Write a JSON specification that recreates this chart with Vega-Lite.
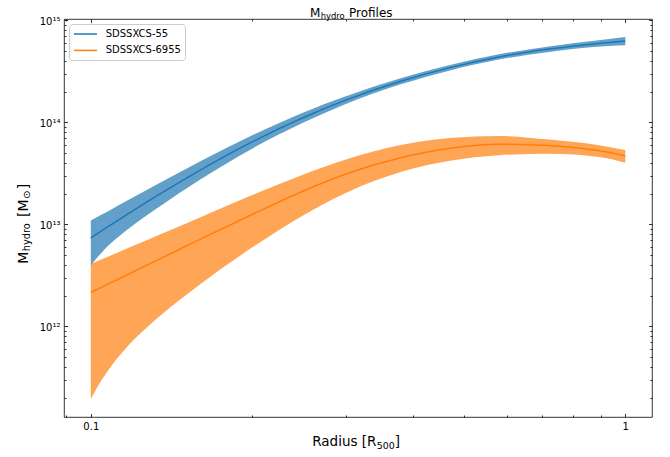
{
  "$schema": "https://vega.github.io/schema/vega-lite/v6.json",
  "autosize": {"type": "none"},
  "width": 588,
  "height": 398,
  "padding": {"left": 64, "top": 19, "right": 18, "bottom": 40},
  "background": "white",
  "data": {
    "values": [
      {"cluster": "SDSSXCS-55", "r": 0.1, "m": 7.36e12, "lo": 3.96e12, "hi": 1.094e13},
      {"cluster": "SDSSXCS-55", "r": 0.104, "m": 8.43e12, "lo": 5.08e12, "hi": 1.225e13},
      {"cluster": "SDSSXCS-55", "r": 0.109, "m": 9.89e12, "lo": 6.53e12, "hi": 1.396e13},
      {"cluster": "SDSSXCS-55", "r": 0.118, "m": 1.291e13, "lo": 9.18e12, "hi": 1.75e13},
      {"cluster": "SDSSXCS-55", "r": 0.135, "m": 2.0e13, "lo": 1.517e13, "hi": 2.576e13},
      {"cluster": "SDSSXCS-55", "r": 0.16, "m": 3.39e13, "lo": 2.742e13, "hi": 4.14e13},
      {"cluster": "SDSSXCS-55", "r": 0.2, "m": 6.4e13, "lo": 5.5e13, "hi": 7.43e13},
      {"cluster": "SDSSXCS-55", "r": 0.25, "m": 1.117e14, "lo": 9.95e13, "hi": 1.253e14},
      {"cluster": "SDSSXCS-55", "r": 0.3, "m": 1.652e14, "lo": 1.514e14, "hi": 1.803e14},
      {"cluster": "SDSSXCS-55", "r": 0.38, "m": 2.529e14, "lo": 2.36e14, "hi": 2.71e14},
      {"cluster": "SDSSXCS-55", "r": 0.47, "m": 3.443e14, "lo": 3.236e14, "hi": 3.656e14},
      {"cluster": "SDSSXCS-55", "r": 0.58, "m": 4.385e14, "lo": 4.13e14, "hi": 4.645e14},
      {"cluster": "SDSSXCS-55", "r": 0.72, "m": 5.236e14, "lo": 4.909e14, "hi": 5.559e14},
      {"cluster": "SDSSXCS-55", "r": 0.9, "m": 5.984e14, "lo": 5.534e14, "hi": 6.427e14},
      {"cluster": "SDSSXCS-55", "r": 1.0, "m": 6.295e14, "lo": 5.702e14, "hi": 6.871e14},
      {"cluster": "SDSSXCS-6955", "r": 0.1, "m": 2.153e12, "lo": 1.941e11, "hi": 4.093e12},
      {"cluster": "SDSSXCS-6955", "r": 0.104, "m": 2.377e12, "lo": 2.805e11, "hi": 4.467e12},
      {"cluster": "SDSSXCS-6955", "r": 0.109, "m": 2.679e12, "lo": 4.027e11, "hi": 4.966e12},
      {"cluster": "SDSSXCS-6955", "r": 0.118, "m": 3.281e12, "lo": 6.637e11, "hi": 5.929e12},
      {"cluster": "SDSSXCS-6955", "r": 0.135, "m": 4.624e12, "lo": 1.282e12, "hi": 8.017e12},
      {"cluster": "SDSSXCS-6955", "r": 0.16, "m": 7.129e12, "lo": 2.576e12, "hi": 1.172e13},
      {"cluster": "SDSSXCS-6955", "r": 0.2, "m": 1.245e13, "lo": 5.888e12, "hi": 1.932e13},
      {"cluster": "SDSSXCS-6955", "r": 0.25, "m": 2.128e13, "lo": 1.23e13, "hi": 3.083e13},
      {"cluster": "SDSSXCS-6955", "r": 0.3, "m": 3.119e13, "lo": 2.032e13, "hi": 4.325e13},
      {"cluster": "SDSSXCS-6955", "r": 0.38, "m": 4.498e13, "lo": 3.258e13, "hi": 5.998e13},
      {"cluster": "SDSSXCS-6955", "r": 0.47, "m": 5.572e13, "lo": 4.207e13, "hi": 7.031e13},
      {"cluster": "SDSSXCS-6955", "r": 0.58, "m": 6.124e13, "lo": 4.775e13, "hi": 7.362e13},
      {"cluster": "SDSSXCS-6955", "r": 0.72, "m": 5.929e13, "lo": 4.932e13, "hi": 6.792e13},
      {"cluster": "SDSSXCS-6955", "r": 0.9, "m": 5.248e13, "lo": 4.56e13, "hi": 5.943e13},
      {"cluster": "SDSSXCS-6955", "r": 1.0, "m": 4.721e13, "lo": 4.018e13, "hi": 5.358e13}
    ]
  },
  "resolve": {"axis": {"x": "independent", "y": "independent"}},
  "layer": [
    {
      "transform": [{"filter": "datum.cluster === 'SDSSXCS-55'"}],
      "mark": {"type": "area", "color": "#1f77b4", "fillOpacity": 0.7, "interpolate": "monotone"},
      "encoding": {
        "x": {
          "field": "r", "type": "quantitative",
          "scale": {"type": "log", "domain": [0.0891, 1.122], "nice": false, "zero": false},
          "axis": {
            "orient": "bottom", "values": [0.1, 1],
            "labelExpr": "datum.value < 0.5 ? '0.1' : '1'",
            "tickSize": -3.5, "labelPadding": 8.3, "labelFontSize": 10, "labelBaseline": "top",
            "labelFlush": false, "labelOverlap": false,
            "title": "Radius [R", "titleFontSize": 13.5, "titleAngle": 0,
            "titleAlign": "left", "titleBaseline": "alphabetic", "titleX": 247.7, "titleY": 28.5
          }
        },
        "y": {
          "field": "lo", "type": "quantitative",
          "scale": {"type": "log", "domain": [1.294e11, 1.032e15], "nice": false, "zero": false},
          "axis": {
            "orient": "left", "values": [1e12, 1e13, 1e14, 1e15],
            "labelExpr": "datum.value > 5e14 ? '10¹⁵' : datum.value > 5e13 ? '10¹⁴' : datum.value > 5e12 ? '10¹³' : '10¹²'",
            "tickSize": -3.5, "labelPadding": 7.5, "labelFontSize": 10, "labelAlign": "right",
            "labelBaseline": "middle", "labelOffset": 1, "labelFlush": false, "labelOverlap": false,
            "title": "M", "titleFontSize": 14, "titleAngle": 270,
            "titleAlign": "left", "titleBaseline": "alphabetic", "titleX": -37, "titleY": 244.3
          }
        },
        "y2": {"field": "hi"}
      }
    },
    {
      "transform": [{"filter": "datum.cluster === 'SDSSXCS-6955'"}],
      "mark": {"type": "area", "color": "#ff7f0e", "fillOpacity": 0.7, "interpolate": "monotone"},
      "encoding": {
        "x": {
          "field": "r", "type": "quantitative",
          "scale": {"type": "log", "domain": [0.0891, 1.122], "nice": false, "zero": false},
          "axis": {
            "orient": "bottom", "values": [0.09, 0.2, 0.3, 0.4, 0.5, 0.6, 0.7, 0.8, 0.9],
            "labels": false, "tickSize": -2,
            "title": "500", "titleFontSize": 9.45, "titleAngle": 0,
            "titleAlign": "left", "titleBaseline": "alphabetic", "titleX": 312.2, "titleY": 31
          }
        },
        "y": {
          "field": "lo", "type": "quantitative",
          "scale": {"type": "log", "domain": [1.294e11, 1.032e15], "nice": false, "zero": false},
          "axis": {
            "orient": "left",
            "values": [2e11, 3e11, 4e11, 5e11, 6e11, 7e11, 8e11, 9e11, 2e12, 3e12, 4e12, 5e12, 6e12, 7e12, 8e12, 9e12, 2e13, 3e13, 4e13, 5e13, 6e13, 7e13, 8e13, 9e13, 2e14, 3e14, 4e14, 5e14, 6e14, 7e14, 8e14, 9e14],
            "labels": false, "tickSize": -2,
            "title": "hydro", "titleFontSize": 9.8, "titleAngle": 270,
            "titleAlign": "left", "titleBaseline": "alphabetic", "titleX": -34.2, "titleY": 231.7
          }
        },
        "y2": {"field": "hi"}
      }
    },
    {
      "mark": {"type": "line", "strokeWidth": 1.5, "interpolate": "monotone"},
      "encoding": {
        "x": {
          "field": "r", "type": "quantitative",
          "scale": {"type": "log", "domain": [0.0891, 1.122], "nice": false, "zero": false},
          "axis": {
            "orient": "top", "values": [0.1, 1], "labels": false, "tickSize": -3.5,
            "title": "M", "titleFontSize": 12, "titleAngle": 0,
            "titleAlign": "left", "titleBaseline": "alphabetic", "titleX": 245.6, "titleY": -3
          }
        },
        "y": {
          "field": "m", "type": "quantitative",
          "scale": {"type": "log", "domain": [1.294e11, 1.032e15], "nice": false, "zero": false},
          "axis": {
            "orient": "right", "values": [1e12, 1e13, 1e14, 1e15], "labels": false,
            "tickSize": -3.5, "title": null
          }
        },
        "color": {
          "field": "cluster", "type": "nominal",
          "scale": {"domain": ["SDSSXCS-55", "SDSSXCS-6955"], "range": ["#1f77b4", "#ff7f0e"]},
          "legend": {
            "orient": "none", "legendX": 5, "legendY": 5, "title": null,
            "symbolType": "M-1,0H3.6", "symbolSize": 100, "symbolStrokeWidth": 1.5,
            "labelFont": "DejaVu Sans", "labelFontSize": 10, "labelColor": "black", "labelOffset": 20.7,
            "padding": 4, "rowPadding": 5.4,
            "fillColor": "white", "strokeColor": "#cccccc", "cornerRadius": 3
          }
        }
      }
    },
    {
      "mark": {"type": "line", "strokeOpacity": 0},
      "encoding": {
        "x": {
          "field": "r", "type": "quantitative",
          "scale": {"type": "log", "domain": [0.0891, 1.122], "nice": false, "zero": false},
          "axis": {
            "orient": "top", "values": [0.09, 0.2, 0.3, 0.4, 0.5, 0.6, 0.7, 0.8, 0.9],
            "labels": false, "tickSize": -2,
            "title": "hydro", "titleFontSize": 8.4, "titleAngle": 0,
            "titleAlign": "left", "titleBaseline": "alphabetic", "titleX": 256.2, "titleY": -0.7
          }
        },
        "y": {
          "field": "m", "type": "quantitative",
          "scale": {"type": "log", "domain": [1.294e11, 1.032e15], "nice": false, "zero": false},
          "axis": {
            "orient": "right",
            "values": [2e11, 3e11, 4e11, 5e11, 6e11, 7e11, 8e11, 9e11, 2e12, 3e12, 4e12, 5e12, 6e12, 7e12, 8e12, 9e12, 2e13, 3e13, 4e13, 5e13, 6e13, 7e13, 8e13, 9e13, 2e14, 3e14, 4e14, 5e14, 6e14, 7e14, 8e14, 9e14],
            "labels": false, "tickSize": -2, "title": null
          }
        },
        "detail": {"field": "cluster", "type": "nominal"}
      }
    },
    {
      "mark": {"type": "line", "strokeOpacity": 0},
      "encoding": {
        "x": {
          "field": "r", "type": "quantitative",
          "scale": {"type": "log", "domain": [0.0891, 1.122], "nice": false, "zero": false},
          "axis": {
            "orient": "bottom", "ticks": false, "labels": false,
            "title": "]", "titleFontSize": 13.5, "titleAngle": 0,
            "titleAlign": "left", "titleBaseline": "alphabetic", "titleX": 330.2, "titleY": 28.5
          }
        },
        "y": {
          "field": "m", "type": "quantitative",
          "scale": {"type": "log", "domain": [1.294e11, 1.032e15], "nice": false, "zero": false},
          "axis": {
            "orient": "left", "ticks": false, "labels": false,
            "title": "[M", "titleFontSize": 14, "titleAngle": 270,
            "titleAlign": "left", "titleBaseline": "alphabetic", "titleX": -37, "titleY": 197.5
          }
        },
        "detail": {"field": "cluster", "type": "nominal"}
      }
    },
    {
      "mark": {"type": "line", "strokeOpacity": 0},
      "encoding": {
        "x": {
          "field": "r", "type": "quantitative",
          "scale": {"type": "log", "domain": [0.0891, 1.122], "nice": false, "zero": false},
          "axis": {
            "orient": "top", "ticks": false, "labels": false,
            "title": "Profiles", "titleFontSize": 12, "titleAngle": 0,
            "titleAlign": "left", "titleBaseline": "alphabetic", "titleX": 284.5, "titleY": -3
          }
        },
        "y": {
          "field": "m", "type": "quantitative",
          "scale": {"type": "log", "domain": [1.294e11, 1.032e15], "nice": false, "zero": false},
          "axis": {
            "orient": "left", "ticks": false, "labels": false,
            "title": "⊙", "titleFontSize": 9.8, "titleAngle": 270,
            "titleAlign": "left", "titleBaseline": "alphabetic", "titleX": -34.2, "titleY": 179.5
          }
        },
        "detail": {"field": "cluster", "type": "nominal"}
      }
    },
    {
      "mark": {"type": "line", "strokeOpacity": 0},
      "encoding": {
        "x": {
          "field": "r", "type": "quantitative",
          "scale": {"type": "log", "domain": [0.0891, 1.122], "nice": false, "zero": false},
          "axis": null
        },
        "y": {
          "field": "m", "type": "quantitative",
          "scale": {"type": "log", "domain": [1.294e11, 1.032e15], "nice": false, "zero": false},
          "axis": {
            "orient": "left", "ticks": false, "labels": false,
            "title": "]", "titleFontSize": 14, "titleAngle": 270,
            "titleAlign": "left", "titleBaseline": "alphabetic", "titleX": -37, "titleY": 169.8
          }
        },
        "detail": {"field": "cluster", "type": "nominal"}
      }
    }
  ],
  "config": {
    "view": {"stroke": "#000000", "strokeWidth": 0.8},
    "axis": {
      "grid": false, "domain": false,
      "tickColor": "#000000", "tickWidth": 0.8,
      "labelFont": "DejaVu Sans", "labelColor": "#000000",
      "titleFont": "DejaVu Sans", "titleColor": "#000000", "titleFontWeight": "normal", "titlePadding": 0
    }
  }
}
